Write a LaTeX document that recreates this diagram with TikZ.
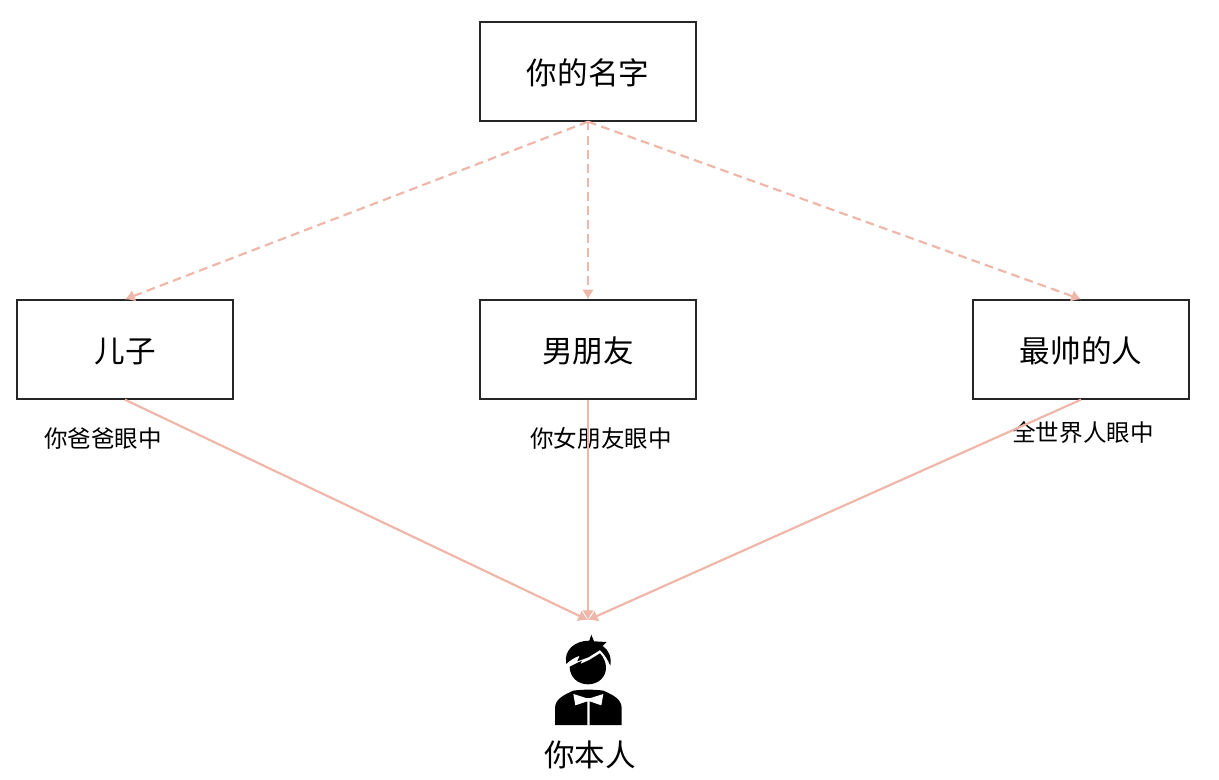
\documentclass[tikz,border=0pt]{standalone}
\usepackage{fontspec}
\usetikzlibrary{arrows.meta}
\setmainfont{Noto Sans CJK SC}
\definecolor{linkpink}{HTML}{EFB7AA}
\tikzset{
    namebox/.style={draw=black!85, line width=0.8pt, minimum width=4.32cm, minimum height=1.98cm, inner sep=0pt, text height=16.7pt, text depth=2pt, font=\fontsize{17.4}{20}\selectfont},
    eyelabel/.style={inner sep=0pt, font=\fontsize{13.4}{16}\selectfont},
    guess/.style={-{Latex[length=5.5pt,width=7pt]}, draw=linkpink, line width=1.25pt, dash pattern=on 5pt off 3pt},
    real/.style={-{Latex[length=5.5pt,width=7pt]}, draw=linkpink, line width=1.25pt}
}
\begin{document}
\begin{tikzpicture}
    \useasboundingbox (0, 0) rectangle (24.38, 15.6);
    \node[namebox] (name) at (11.76, 14.17) {你的名字};
    \node[namebox] (son) at (2.5, 8.61) {儿子};
    \node[namebox] (boyfriend) at (11.76, 8.61) {男朋友};
    \node[namebox] (handsome) at (21.62, 8.61) {最帅的人};
    \node[eyelabel] (dadeye) at (2.06, 6.82) {你爸爸眼中};
    \node[eyelabel] (gfeye) at (12.02, 6.84) {你女朋友眼中};
    \node[eyelabel] (worldeye) at (21.66, 6.94) {全世界人眼中};
    \coordinate (self) at (11.76, 3.2);
    \node[namebox, draw=none, minimum width=0pt, minimum height=0pt] (selflabel) at (11.8, 0.52) {你本人};
    \draw[guess] (name.south) -- (son.north);
    \draw[guess] (name.south) -- (boyfriend.north);
    \draw[guess] (name.south) -- (handsome.north);
    \draw[real] (son.south) -- (self);
    \draw[real] (boyfriend.south) -- (self);
    \draw[real] (handsome.south) -- (self);
    \begin{scope}[shift={(10.4, 3.6)}, x=0.00667cm, y=-0.00667cm]
        \fill (139, 192) .. controls (130, 150) and (165, 122) .. (208, 122)
            -- (214, 104) -- (222, 124) -- (260, 126) -- (248, 138)
            .. controls (266, 150) and (275, 170) .. (271, 197)
            .. controls (263, 178) and (253, 163) .. (240, 150)
            -- (205, 172) -- (172, 184) -- (179, 167)
            .. controls (165, 172) and (150, 180) .. (139, 192) -- cycle;
        \fill (149, 200) -- (186, 182) -- (181, 192) -- (208, 180) -- (240, 160)
            .. controls (252, 172) and (258, 190) .. (258, 203)
            .. controls (258, 232) and (234, 253) .. (204, 253)
            .. controls (174, 253) and (149, 232) .. (149, 200) -- cycle;
        \fill (105, 375) -- (105, 325) .. controls (105, 298) and (130, 285) .. (160, 272)
            .. controls (185, 268) and (225, 268) .. (250, 272)
            .. controls (280, 285) and (305, 298) .. (305, 325) -- (305, 375) -- cycle;
        \fill[white] (160, 282) -- (198, 294) -- (212, 294) -- (250, 282) -- (244, 316)
            -- (209, 304) -- (209, 375) -- (202, 375) -- (202, 304) -- (166, 316) -- cycle;
    \end{scope}
\end{tikzpicture}
\end{document}
